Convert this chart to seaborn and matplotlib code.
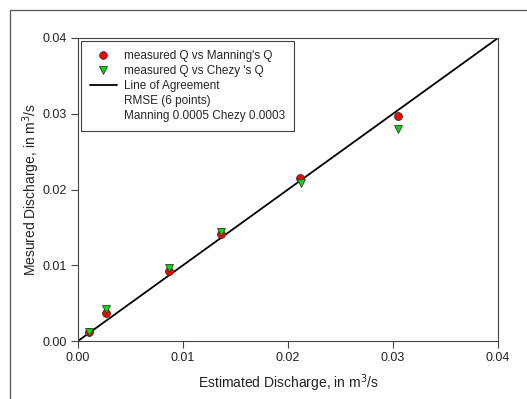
import pandas as pd
import matplotlib
matplotlib.use("Agg")
import matplotlib.pyplot as plt
import seaborn as sns
from matplotlib.lines import Line2D

# dados
q_manning = [0.00105, 0.0027, 0.0087, 0.0136, 0.0211, 0.0305]
q_medido_manning = [0.0012, 0.0037, 0.0092, 0.0141, 0.0215, 0.0297]
q_chezy = [0.00105, 0.0027, 0.0087, 0.0136, 0.0212, 0.0305]
q_medido_chezy = [0.0012, 0.0042, 0.0097, 0.0144, 0.0209, 0.0280]
linha_concordancia = [0.0, 0.04]
ticks = [0.00, 0.01, 0.02, 0.03, 0.04]

sns.set_theme(style="white")
plt.rcParams['font.family'] = ['Liberation Sans', 'DejaVu Sans']

dados_manning = pd.DataFrame({'x': q_manning, 'y': q_medido_manning})
dados_chezy = pd.DataFrame({'x': q_chezy, 'y': q_medido_chezy})
dados_linha = pd.DataFrame({'x': linha_concordancia, 'y': linha_concordancia})

fig = plt.figure(figsize=(5.27, 3.99), dpi=100)
ax = fig.add_axes([78 / 527, 1 - 341 / 399, 420 / 527, 303 / 399])

sns.lineplot(data=dados_linha, x='x', y='y', color='black', linewidth=1.3, ax=ax)
sns.scatterplot(data=dados_manning, x='x', y='y', color='#ff0000', marker='o', s=32,
                edgecolor='#333333', linewidth=0.6, zorder=3, ax=ax)
sns.scatterplot(data=dados_chezy, x='x', y='y', color='#00dd00', marker='v', s=32,
                edgecolor='#333333', linewidth=0.6, zorder=3, ax=ax)

ax.set_xlim(0, 0.04)
ax.set_ylim(0, 0.04)
ax.set_xticks(ticks)
ax.set_yticks(ticks)
ax.set_xticklabels([f'{t:.2f}' for t in ticks], fontsize=9)
ax.set_yticklabels([f'{t:.2f}' for t in ticks], fontsize=9)
ax.tick_params(axis='both', direction='out', length=5, width=0.8, color='#444444',
               bottom=True, left=True, pad=3, labelcolor='#222222')
for s in ax.spines.values():
    s.set_color('#444444')
    s.set_linewidth(0.8)
ax.set_xlabel('Estimated Discharge, in m$^3$/s', fontsize=10, color='#222222', labelpad=6)
ax.set_ylabel('Mesured Discharge, in m$^3$/s', fontsize=10, color='#222222')
ax.yaxis.set_label_coords(-0.085, 0.5)

# legenda
handles = [
    Line2D([], [], marker='o', color='none', markerfacecolor='#ff0000', markeredgecolor='#333333',
           markersize=5.5, markeredgewidth=0.6),
    Line2D([], [], marker='v', color='none', markerfacecolor='#00dd00', markeredgecolor='#333333',
           markersize=5.5, markeredgewidth=0.6),
    Line2D([], [], color='black', linewidth=1.3),
    Line2D([], [], color='none'),
    Line2D([], [], color='none'),
]
labels = ["measured Q vs Manning's Q", "measured Q vs Chezy 's Q", "Line of Agreement",
          "RMSE (6 points)", "Manning 0.0005 Chezy 0.0003"]
leg = ax.legend(handles, labels, loc='upper left', bbox_to_anchor=(0.007, 0.99), fontsize=8.5,
                frameon=True, fancybox=False, framealpha=1, edgecolor='#444444',
                handlelength=2.3, handletextpad=0.6, labelspacing=0.25, borderpad=0.75,
                borderaxespad=0)
leg.get_frame().set_linewidth(0.8)

# moldura externa
fig.add_artist(Line2D([10 / 527, 10 / 527], [0, 1 - 10 / 399], color='#555555', linewidth=0.9,
                      transform=fig.transFigure))
fig.add_artist(Line2D([10 / 527, 1], [1 - 10 / 399, 1 - 10 / 399], color='#555555', linewidth=0.9,
                      transform=fig.transFigure))

fig.savefig('out.png', dpi=100)
